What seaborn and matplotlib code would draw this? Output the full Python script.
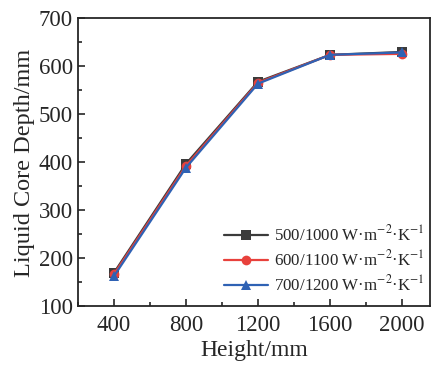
import numpy as np
import pandas as pd
import matplotlib
matplotlib.use("Agg")
import matplotlib.pyplot as plt
import seaborn as sns
from matplotlib.ticker import AutoMinorLocator

sns.set_style('ticks')
plt.rcParams['font.family'] = ['Liberation Serif', 'DejaVu Serif']
plt.rcParams['mathtext.fontset'] = 'stix'

# ── data ──
heights = [400, 800, 1200, 1600, 2000]
depth_500 = [170, 397, 568, 624, 630]
depth_600 = [167, 393, 566, 624, 626]
depth_700 = [163, 389, 564, 624, 629]
labels = ['500/1000 W·m$^{-2}$·K$^{-1}$',
          '600/1100 W·m$^{-2}$·K$^{-1}$',
          '700/1200 W·m$^{-2}$·K$^{-1}$']

df = pd.DataFrame({
    'Height': heights * 3,
    'Depth': depth_500 + depth_600 + depth_700,
    'Case': [labels[0]] * 5 + [labels[1]] * 5 + [labels[2]] * 5,
})

colors = ['#3b3b3b', '#e8413c', '#2f62b4']
markers = ['s', 'o', '^']

fig, ax = plt.subplots(figsize=(4.33, 3.67), dpi=100)
sns.lineplot(data=df, x='Height', y='Depth', hue='Case', style='Case',
             palette=colors, markers=markers, dashes=False, lw=1.6,
             markersize=7, markeredgewidth=0, ax=ax)

ax.set_xlim(200, 2155)
ax.set_ylim(100, 700)
ax.set_xticks(heights)
ax.set_yticks(range(100, 701, 100))
ax.xaxis.set_minor_locator(AutoMinorLocator(2))
ax.yaxis.set_minor_locator(AutoMinorLocator(2))
ax.tick_params(which='both', direction='in', labelsize=16.5, width=1.2)
ax.tick_params(which='major', length=5)
ax.tick_params(which='minor', length=3)
ax.tick_params(axis='x', pad=6)
for s in ax.spines.values():
    s.set_linewidth(1.3)
ax.set_xlabel('Height/mm', fontsize=17, labelpad=3)
ax.set_ylabel('Liquid Core Depth/mm', fontsize=17.5, labelpad=3)

ax.legend(loc='lower right', bbox_to_anchor=(1.015, 0.005), frameon=False,
          fontsize=12.2, title=None, handlelength=2.6, borderaxespad=0.2,
          labelspacing=0.3, handletextpad=0.4)

fig.subplots_adjust(left=0.18, right=0.993, top=0.95, bottom=0.165)
fig.savefig('out.png', dpi=100)
plt.close(fig)
